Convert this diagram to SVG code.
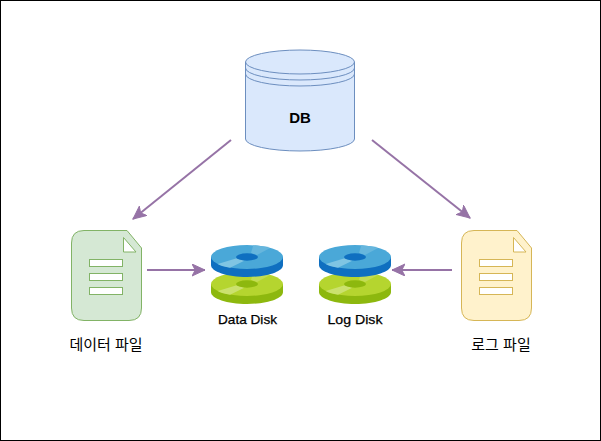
<svg xmlns="http://www.w3.org/2000/svg" width="601" height="441" viewBox="0 0 601 441">
<defs>
<marker id="arrow" markerUnits="userSpaceOnUse" markerWidth="16" markerHeight="14" refX="13" refY="6" orient="auto"><path d="M0 0L13 6L0 12L3.2 6Z" fill="#9673a6" stroke="#9673a6" stroke-width="1"/></marker>
<g id="disk-blue">
<path d="M0 12V20C0 26.600 16 32 36 32S72 26.600 72 20V12Z" fill="#0f6fc0"/>
<ellipse cx="36" cy="12" rx="36" ry="12" fill="#4aa8d8"/>
<path d="M6.700 19L25.700 13.300L33.300 15.700L19 22.800Q11 21.500 6.700 19Z" fill="#80c5e3"/>
<path d="M42.300 .3Q52 1 59 3L46 10L40 8Z" fill="#66b6dd"/>
<ellipse cx="36" cy="12" rx="11" ry="3.700" fill="#0f6fc0"/>
</g>
<g id="disk-green">
<path d="M0 12V20C0 26.600 16 32 36 32S72 26.600 72 20V12Z" fill="#8db80e"/>
<ellipse cx="36" cy="12" rx="36" ry="12" fill="#b5d52f"/>
<path d="M6.700 19L25.700 13.300L33.300 15.700L19 22.800Q11 21.500 6.700 19Z" fill="#cbe16e"/>
<path d="M42.300 .3Q52 1 59 3L46 10L40 8Z" fill="#c2dc55"/>
<ellipse cx="36" cy="12" rx="11" ry="3.700" fill="#8db80e"/>
</g>
</defs>
<style>
text{font-family:"Liberation Sans","Noto Sans CJK KR",sans-serif;fill:#000;text-anchor:middle}
.conn{fill:none;stroke:#9673a6;stroke-width:2;marker-end:url(#arrow)}
.cyl{fill:#dae8fc;stroke:#6c8ebf;stroke-width:1}
.cyl-line{fill:none;stroke:#6c8ebf;stroke-width:1}
.line{fill:#fff;stroke-width:1}
.ko{font-size:15px}
.en{font-size:13px;stroke:#000;stroke-width:.25}
</style>
<rect x=".5" y=".5" width="600" height="440" fill="#fff" stroke="#000"/>
<g id="connectors">
<path class="conn" d="M231 140L133 219"/>
<path class="conn" d="M372 140L470 218"/>
<path class="conn" d="M147 270H205"/>
<path class="conn" d="M452 270H392"/>
</g>
<g id="db">
<path class="cyl" d="M245.500 62A54.500 12 0 0 1 354.500 62V139A54.500 12 0 0 1 245.500 139Z"/>
<path class="cyl-line" d="M245.500 62A54.500 12 0 0 0 354.500 62M245.500 68A54.500 12 0 0 0 354.500 68M245.500 74A54.500 12 0 0 0 354.500 74"/>
<text x="300" y="122.500" font-size="15" font-weight="bold">DB</text>
</g>
<g id="data-file">
<path d="M71.500 243Q71.500 230.500 84 230.500H127L141.500 248V308Q141.500 320.500 129 320.500H84Q71.500 320.500 71.500 308Z" fill="#d5e8d4" stroke="#82b366"/>
<path d="M123.500 237.500L136 252H123.500Z" fill="#fff" stroke="#82b366"/>
<rect class="line" x="89.500" y="259.500" width="33" height="7" stroke="#82b366"/>
<rect class="line" x="89.500" y="273.500" width="33" height="7" stroke="#82b366"/>
<rect class="line" x="89.500" y="287.500" width="33" height="7" stroke="#82b366"/>
<text class="ko" x="106" y="350">데이터 파일</text>
</g>
<g id="data-disk">
<use href="#disk-green" x="211" y="272"/>
<use href="#disk-blue" x="211" y="245"/>
<text class="en" x="247.500" y="324" textLength="59" lengthAdjust="spacingAndGlyphs">Data Disk</text>
</g>
<g id="log-disk">
<use href="#disk-green" x="319" y="272"/>
<use href="#disk-blue" x="319" y="245"/>
<text class="en" x="355" y="324" textLength="55" lengthAdjust="spacingAndGlyphs">Log Disk</text>
</g>
<g id="log-file">
<path d="M461.500 243Q461.500 230.500 474 230.500H517L531.500 248V308Q531.500 320.500 519 320.500H474Q461.500 320.500 461.500 308Z" fill="#fff2cc" stroke="#d6b656"/>
<path d="M513.500 237.500L526 252H513.500Z" fill="#fff" stroke="#d6b656"/>
<rect class="line" x="479.500" y="259.500" width="33" height="7" stroke="#d6b656"/>
<rect class="line" x="479.500" y="273.500" width="33" height="7" stroke="#d6b656"/>
<rect class="line" x="479.500" y="287.500" width="33" height="7" stroke="#d6b656"/>
<text class="ko" x="501" y="350">로그 파일</text>
</g>
</svg>
